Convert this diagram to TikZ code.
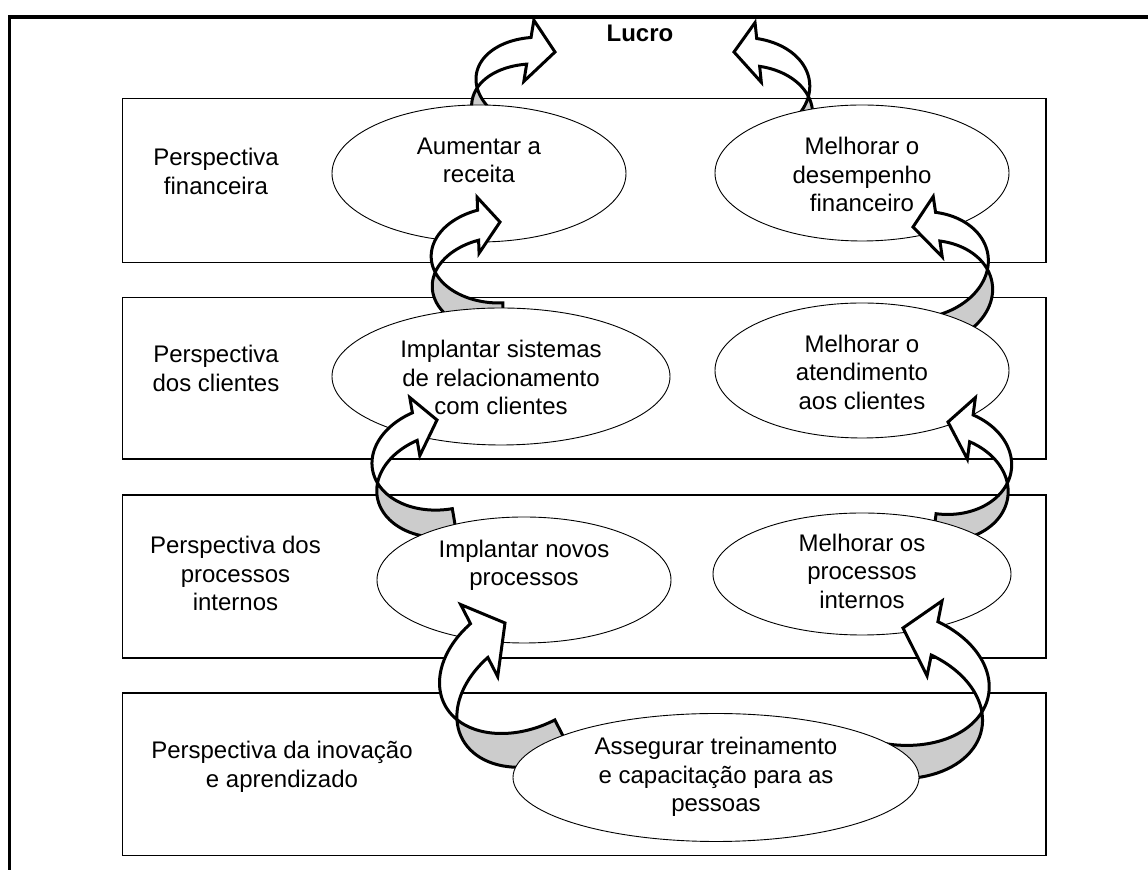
\documentclass[tikz,border=0pt]{standalone}
\usepackage{fontspec}
\setmainfont{Liberation Sans}
\usetikzlibrary{shapes.geometric}

\tikzset{
  rowbox/.style={draw=black, line width=0.6pt, fill=white},
  goal/.style={ellipse, draw=black, line width=0.45pt, fill=white, inner sep=0pt},
  goaltext/.style={align=center, inner sep=0pt, font=\fontsize{12pt}{14.25pt}\selectfont},
  frontband/.style={fill=white, draw=black, line width=1.5pt, line join=miter, miter limit=4},
  backband/.style={fill=black!20, draw=black, line width=1.5pt, line join=miter, miter limit=4},
}

% Curved ribbon arrow: tip x, tip y, rotation, mirror (1/-1),
% half width W, ellipse radius hR, band thickness, head width, head length
\newcommand{\bendarrow}[9]{%
  \begin{scope}[shift={(#1,#2)}, rotate=#3, xscale=#4, yscale=-1]
    \pgfmathsetmacro{\bwW}{#5}%
    \pgfmathsetmacro{\bwR}{#6}%
    \pgfmathsetmacro{\bwT}{#7}%
    \pgfmathsetmacro{\bwH}{(#8-#7)/2}%
    \pgfmathsetmacro{\bwL}{#9}%
    \pgfmathsetmacro{\bwX}{asin(\bwT/(2*\bwR))}%
    \pgfmathsetmacro{\bwB}{acos(-\bwL/\bwW)}%
    \pgfmathsetmacro{\bwI}{-\bwR-\bwT/2}%
    \pgfmathsetmacro{\bwO}{-\bwR+\bwT/2}%
    \pgfmathsetmacro{\bwY}{\bwI+\bwR*sin(\bwB)}%
    % shaded back of the ribbon
    \filldraw[backband]
      plot[domain=0:1, samples=30, variable=\q]
        ({\bwW*cos(180-\bwX+(90+\bwX)*\q)}, {\bwI+\bwR*sin(180-\bwX+(90+\bwX)*\q)})
      -- plot[domain=0:1, samples=30, variable=\q]
        ({\bwW*cos(270-(90-\bwX)*\q)}, {\bwO+\bwR*sin(270-(90-\bwX)*\q)})
      -- cycle;
    % front of the ribbon with its head
    \filldraw[frontband]
      (0,0) -- (-\bwL,\bwY+\bwT+\bwH)
      -- plot[domain=0:1, samples=40, variable=\q]
        ({\bwW*cos(\bwB+(180+\bwX-\bwB)*\q)}, {\bwO+\bwR*sin(\bwB+(180+\bwX-\bwB)*\q)})
      -- plot[domain=0:1, samples=40, variable=\q]
        ({\bwW*cos(180-\bwX-(180-\bwX-\bwB)*\q)}, {\bwI+\bwR*sin(180-\bwX-(180-\bwX-\bwB)*\q)})
      -- (-\bwL,\bwY-\bwH) -- cycle;
  \end{scope}}

\begin{document}
\begin{tikzpicture}[x=0.5pt, y=-0.5pt]
\useasboundingbox (0,0) rectangle (1148,870);

% outer frame
\draw[line width=1.75pt] (9.5,870) -- (9.5,16.8) -- (1148,16.8);

% perspective rows
\draw[rowbox] (122.3,98.3) rectangle (1046,262.3);
\draw[rowbox] (122.3,297.3) rectangle (1046,459);
\draw[rowbox] (122.3,495) rectangle (1046,658);
\draw[rowbox] (122.3,693) rectangle (1046,855.7);

% row labels
\node[goaltext] (p1) at (216,171.5) {Perspectiva\\financeira};
\node[goaltext] (p2) at (216,368.5) {Perspectiva\\dos clientes};
\node[goaltext] (p3) at (235.5,573.5) {Perspectiva dos\\processos\\internos};
\node[goaltext] (p4) at (282,766.8) {Perspectiva da inovação\\e aprendizado};

% result
\node[font=\bfseries\fontsize{12pt}{14.25pt}\selectfont, inner sep=0pt] (lucro) at (640,33.5) {Lucro};

% financial goals up to the result
\bendarrow{555}{52}{-9.3}{1}{74}{48}{27}{62}{26}
\bendarrow{734}{52}{6}{-1}{72}{52}{28}{60}{24}

\node[goal, minimum width=147pt, minimum height=68.5pt] (g1) at (479,173.5) {};
\node[goal, minimum width=147pt, minimum height=68pt] (g2) at (862,173) {};
\node[goaltext] (t1) at (479,160.6) {Aumentar a\\receita};
\node[goaltext] (t2) at (862,174.7) {Melhorar o\\desempenho\\financeiro};

% customer goals up to financial goals
\bendarrow{500}{222}{2}{1}{70}{48}{30}{56}{22}
\bendarrow{913}{227}{8.5}{-1}{70}{53}{29}{61}{24.5}

\node[goal, minimum width=169pt, minimum height=68.5pt] (g3) at (501,376.5) {};
\node[goal, minimum width=147pt, minimum height=67.5pt] (g4) at (862,370.5) {};
\node[goaltext] (t3) at (501,377.9) {Implantar sistemas\\de relacionamento\\com clientes};
\node[goaltext] (t4) at (862,372) {Melhorar o\\atendimento\\aos clientes};

% process goals up to customer goals
\bendarrow{437}{420}{9.8}{1}{72}{52}{28}{59}{23}
\bendarrow{948}{422}{-7.4}{-1}{69}{53}{27}{62}{24}

\node[goal, minimum width=147pt, minimum height=63pt] (g5) at (524,580) {};
\node[goal, minimum width=149pt, minimum height=61pt] (g6) at (862,574) {};
\node[goaltext] (t5) at (524,565.5) {Implantar novos\\processos};
\node[goaltext] (t6) at (862,571) {Melhorar os\\processos\\internos};

% learning goal up to process goals
\bendarrow{505}{623}{27.2}{1}{91}{64}{38}{81}{31}
\bendarrow{903}{628}{-11.3}{-1}{97}{67}{34}{76.5}{33}

\node[goal, minimum width=203pt, minimum height=64pt] (g7) at (716,777.5) {};
\node[goaltext] (t7) at (716,777) {Assegurar treinamento\\e capacitação para as\\pessoas};
\end{tikzpicture}
\end{document}
